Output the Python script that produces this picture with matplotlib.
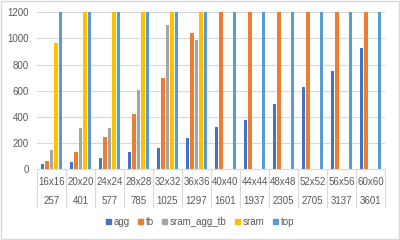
import matplotlib.pyplot as plt
import numpy as np
from matplotlib.patches import Rectangle, Patch
from matplotlib.transforms import blended_transform_factory

plt.rcParams['font.family'] = ['Liberation Sans', 'DejaVu Sans']

sizes = ["16x16", "20x20", "24x24", "28x28", "32x32", "36x36",
         "40x40", "44x44", "48x48", "52x52", "56x56", "60x60"]
counts = ["257", "401", "577", "785", "1025", "1297",
          "1601", "1937", "2305", "2705", "3137", "3601"]

# bars that run past the axis top are shown at 1200 (axis limit)
agg = [38, 58, 86, 130, 165, 237, 320, 378, 495, 631, 754, 928]
tb = [63, 132, 249, 420, 696, 1040, 1200, 1200, 1200, 1200, 1200, 1200]
sram_agg_tb = [149, 318, 313, 606, 1101, 989, 0, 0, 0, 0, 0, 0]
sram = [965, 1200, 1200, 1200, 1200, 1200, 0, 0, 0, 0, 0, 0]
top = [1200] * 12

series = [("agg", agg, "#4472C4"),
          ("tb", tb, "#ED7D31"),
          ("sram_agg_tb", sram_agg_tb, "#A5A5A5"),
          ("sram", sram, "#FFC000"),
          ("top", top, "#5B9BD5")]

txt = "#595959"
grid = "#D9D9D9"
fs = 7

fig = plt.figure(figsize=(4, 2.4), dpi=100)
ax = fig.add_axes([0.0925, 0.295, 0.87, 0.654])

x = np.arange(len(sizes))
step = 0.158
for k, (name, vals, col) in enumerate(series):
    ax.bar(x + (k - 2) * step, vals, width=0.115, color=col, label=name, zorder=2)

ax.set_xlim(-0.5, len(sizes) - 0.5)
ax.set_ylim(0, 1200)
ax.set_yticks(range(0, 1201, 200))
ax.tick_params(axis='y', length=0, labelsize=fs, colors=txt, pad=6)
ax.set_xticks([])
ax.grid(axis='y', color=grid, lw=0.8, zorder=0)
for s in ['left', 'right', 'top']:
    ax.spines[s].set_visible(False)
ax.spines['bottom'].set_color(grid)
ax.spines['bottom'].set_linewidth(0.8)

# two-level category labels
tr = blended_transform_factory(ax.transData, ax.transAxes)
for i in range(len(sizes)):
    ax.text(i, -0.08, sizes[i], transform=tr, ha='center', va='center',
            fontsize=fs, color=txt)
    ax.text(i, -0.20, counts[i], transform=tr, ha='center', va='center',
            fontsize=fs, color=txt)
for b in np.arange(-0.5, len(sizes), 1.0):
    ax.plot([b, b], [0, -0.24], transform=tr, color=grid, lw=0.8, clip_on=False)

handles = [Patch(color=c, label=n) for n, _, c in series]
fig.legend(handles=handles, loc='center', bbox_to_anchor=(0.5, 0.075), ncol=5,
           frameon=False, fontsize=fs, handlelength=0.5, handleheight=0.5,
           handletextpad=0.25, columnspacing=0.9, labelcolor=txt)

fig.patches.append(Rectangle((0.003, 0.004), 0.994, 0.992, transform=fig.transFigure,
                             fill=False, edgecolor=grid, lw=1))

fig.savefig("out.png", dpi=100)
